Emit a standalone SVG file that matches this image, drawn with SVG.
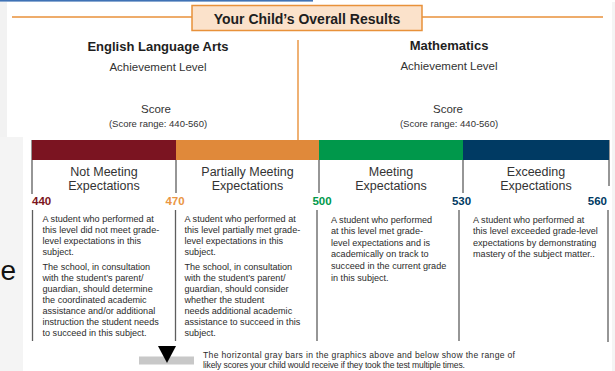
<svg xmlns="http://www.w3.org/2000/svg" width="615" height="371" viewBox="0 0 615 371">
<style>
text{font-family:"Liberation Sans",Arial,sans-serif;fill:#2b2b2b}
.t{font-size:14px;font-weight:bold;fill:#1e1e1e;text-anchor:middle}
.h{font-size:13px;font-weight:bold;fill:#1e1e1e;text-anchor:middle}
.s{font-size:11.5px;fill:#333;text-anchor:middle}
.r{font-size:9.5px;fill:#333;text-anchor:middle}
.lv{font-size:12.5px;fill:#333;text-anchor:middle}
.n{font-size:11.5px;font-weight:bold}
.d{font-size:9.1px;fill:#2b2b2b}
.lg{font-size:8.6px;fill:#2b2b2b}
.v{stroke:#5e5e5e;stroke-width:1.3;fill:none}
.o{stroke:#e8913a;stroke-width:1.4;fill:none}
</style>
<rect x="0" y="0" width="615" height="371" fill="#ffffff"/>
<rect x="0" y="2" width="7" height="136" fill="#f2f2f2"/>
<rect x="0" y="137" width="23" height="234" fill="#f4f4f4"/>
<rect x="612" y="2" width="3" height="369" fill="#f4f4f4"/>
<rect x="0" y="0" width="313" height="1.6" fill="#3f72b5"/>
<text x="0.5" y="280" style="font-size:28px;fill:#111">e</text>

<g id="header">
<line class="o" x1="12" y1="17" x2="603" y2="17"/>
<rect x="192" y="5.5" width="230" height="25" fill="#fbe2cb" stroke="#e8913a" stroke-width="1.5"/>
<text class="t" x="307" y="24">Your Child’s Overall Results</text>
<line class="o" x1="298" y1="40" x2="298" y2="140"/>
</g>

<g id="ela">
<text class="h" x="158" y="51">English Language Arts</text>
<text class="s" x="158" y="70.5">Achievement Level</text>
<text class="s" x="156" y="113">Score</text>
<text class="r" x="158" y="127">(Score range: 440-560)</text>
</g>
<g id="math">
<text class="h" x="449" y="50">Mathematics</text>
<text class="s" x="449" y="70">Achievement Level</text>
<text class="s" x="448" y="113">Score</text>
<text class="r" x="449" y="127">(Score range: 440-560)</text>
</g>

<g id="connectors">
<line class="v" x1="32" y1="140" x2="32" y2="194"/>
<line class="v" x1="176" y1="160" x2="176" y2="193"/>
<line class="v" x1="319" y1="160" x2="319" y2="193"/>
<line class="v" x1="463" y1="160" x2="463" y2="193"/>
<line class="v" x1="609" y1="140" x2="609" y2="186"/>
<line class="v" x1="32.5" y1="210" x2="32.5" y2="341"/>
<line class="v" x1="175.5" y1="210" x2="175.5" y2="341"/>
<line class="v" x1="317" y1="210" x2="317" y2="341"/>
<line class="v" x1="459" y1="210" x2="459" y2="341"/>
<line class="v" x1="608" y1="210" x2="608" y2="342"/>
</g>

<g id="level-not-meeting">
<rect x="32" y="140" width="144" height="20" fill="#7b1421"/>
<text class="lv" x="104" y="175.5">Not Meeting</text>
<text class="lv" x="104" y="189.5">Expectations</text>
<text class="n" x="32" y="204.5" style="fill:#7b1421">440</text>
<text class="d"><tspan x="42.5" y="222">A student who performed at</tspan><tspan x="42.5" y="232.9">this level did not meet grade-</tspan><tspan x="42.5" y="243.8">level expectations in this</tspan><tspan x="42.5" y="254.7">subject.</tspan><tspan x="42.5" y="269.8">The school, in consultation</tspan><tspan x="42.5" y="280.8">with the student’s parent/</tspan><tspan x="42.5" y="291.7">guardian, should determine</tspan><tspan x="42.5" y="302.7">the coordinated academic</tspan><tspan x="42.5" y="313.6">assistance and/or additional</tspan><tspan x="42.5" y="324.6">instruction the student needs</tspan><tspan x="42.5" y="335.5">to succeed in this subject.</tspan></text>
</g>

<g id="level-partially-meeting">
<rect x="176" y="140" width="143" height="20" fill="#e0893a"/>
<text class="lv" x="247.5" y="175.5">Partially Meeting</text>
<text class="lv" x="247.5" y="189.5">Expectations</text>
<text class="n" x="175" y="204.5" text-anchor="middle" style="fill:#ea9543">470</text>
<text class="d"><tspan x="184.5" y="222">A student who performed at</tspan><tspan x="184.5" y="232.9">this level partially met grade-</tspan><tspan x="184.5" y="243.8">level expectations in this</tspan><tspan x="184.5" y="254.7">subject.</tspan><tspan x="184.5" y="269.8">The school, in consultation</tspan><tspan x="184.5" y="280.8">with the student’s parent/</tspan><tspan x="184.5" y="291.7">guardian, should consider</tspan><tspan x="184.5" y="302.7">whether the student</tspan><tspan x="184.5" y="313.6">needs additional academic</tspan><tspan x="184.5" y="324.6">assistance to succeed in this</tspan><tspan x="184.5" y="335.5">subject.</tspan></text>
</g>

<g id="level-meeting">
<rect x="319" y="140" width="144" height="20" fill="#00984b"/>
<text class="lv" x="391" y="175.5">Meeting</text>
<text class="lv" x="391" y="189.5">Expectations</text>
<text class="n" x="322" y="204.5" text-anchor="middle" style="fill:#00984b">500</text>
<text class="d"><tspan x="331" y="222.5">A student who performed</tspan><tspan x="331" y="234.1">at this level met grade-</tspan><tspan x="331" y="245.7">level expectations and is</tspan><tspan x="331" y="257.3">academically on track to</tspan><tspan x="331" y="268.9">succeed in the current grade</tspan><tspan x="331" y="280.5">in this subject.</tspan></text>
</g>

<g id="level-exceeding">
<rect x="463" y="140" width="146" height="20" fill="#003a63"/>
<text class="lv" x="536" y="175.5">Exceeding</text>
<text class="lv" x="536" y="189.5">Expectations</text>
<text class="n" x="461.5" y="204.5" text-anchor="middle" style="fill:#003a63">530</text>
<text class="n" x="607" y="204.5" text-anchor="end" style="fill:#003a63">560</text>
<text class="d"><tspan x="473" y="222.5">A student who performed at</tspan><tspan x="473" y="234.1">this level exceeded grade-level</tspan><tspan x="473" y="245.7">expectations by demonstrating</tspan><tspan x="473" y="257.3">mastery of the subject matter..</tspan></text>
</g>

<g id="legend">
<rect x="139" y="356.5" width="55" height="8" fill="#c8c8c8"/>
<polygon points="158,346 176,346 167,363" fill="#000"/>
<text class="lg" x="203" y="358" textLength="312">The horizontal gray bars in the graphics above and below show the range of</text>
<text class="lg" x="203" y="367.5" textLength="262">likely scores your child would receive if they took the test multiple times.</text>
</g>
</svg>
